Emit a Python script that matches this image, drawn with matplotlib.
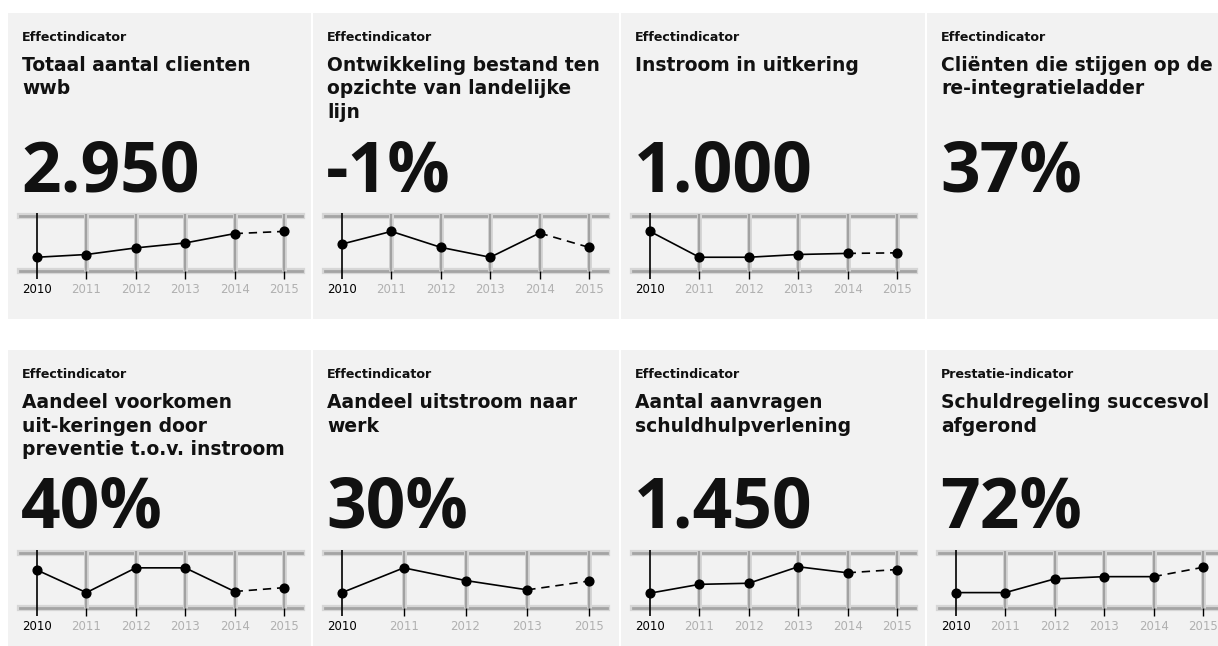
import matplotlib
matplotlib.use("Agg")
import matplotlib.pyplot as plt
from matplotlib.patches import Rectangle

W, H = 1218, 646
BG = "#f2f2f2"
NUM_FONT = "Open Sans"
TXT_FONT = "DejaVu Sans"

# data
years_full = ['2010', '2011', '2012', '2013', '2014', '2015']
years_short = ['2010', '2011', '2012', '2013', '2015']

kinds = ['Effectindicator'] * 7 + ['Prestatie-indicator']
titles = [
    'Totaal aantal clienten\nwwb',
    'Ontwikkeling bestand ten\nopzichte van landelijke\nlijn',
    'Instroom in uitkering',
    'Cliënten die stijgen op de\nre-integratieladder',
    'Aandeel voorkomen\nuit-keringen door\npreventie t.o.v. instroom',
    'Aandeel uitstroom naar\nwerk',
    'Aantal aanvragen\nschuldhulpverlening',
    'Schuldregeling succesvol\nafgerond',
]
big_values = ['2.950', '-1%', '1.000', '37%', '40%', '30%', '1.450', '72%']

# relative position in the sparkline (0 = lower gridline, 1 = upper gridline)
s_clienten = [0.25, 0.30, 0.42, 0.51, 0.68, 0.72]
s_ontwikkeling = [0.49, 0.72, 0.43, 0.25, 0.69, 0.43]
s_instroom = [0.72, 0.25, 0.25, 0.30, 0.32, 0.33]
s_preventie = [0.69, 0.28, 0.73, 0.73, 0.30, 0.37]
s_uitstroom = [0.28, 0.73, 0.50, 0.33, 0.49]
s_schuldhulp = [0.27, 0.43, 0.45, 0.75, 0.64, 0.70]
s_schuldregeling = [0.28, 0.28, 0.53, 0.57, 0.57, 0.74]

series = [
    (years_full, s_clienten),
    (years_full, s_ontwikkeling),
    (years_full, s_instroom),
    None,
    (years_full, s_preventie),
    (years_short, s_uitstroom),
    (years_full, s_schuldhulp),
    (years_full, s_schuldregeling),
]

col_x = [8, 313, 621, 927]
col_w = [303, 306, 304, 304]
row_y = [13, 350]
row_h = [306, 300]


def fx(x):
    return x / W


def fy(y):
    return 1 - y / H


def add_px_axes(fig, x, y, w, h):
    return fig.add_axes([x / W, 1 - (y + h) / H, w / W, h / H])


def draw_sparkline(fig, x0, y0, labels, vals):
    ax = add_px_axes(fig, x0 + 12, y0 + 203, 282, 55)
    ax.set_axis_off()
    ax.set_zorder(2)
    n = len(vals)
    scale = 247 / (n - 1)
    ax.set_xlim(-17 / scale, (n - 1) + 18 / scale)
    ax.set_ylim(0, 1)
    xs = list(range(n))

    # horizontal grid (soft, a little blurry)
    for yy in (0, 1):
        ax.axhline(yy, color="#d6d6d6", lw=4.5, clip_on=False, zorder=1)
        ax.axhline(yy, color="#a4a4a4", lw=2.0, clip_on=False, zorder=1)
    # vertical grid
    for i in xs[1:]:
        ax.plot([i, i], [0, 1.04], color="#d6d6d6", lw=3.6, clip_on=False, zorder=1,
                solid_capstyle="butt")
        ax.plot([i, i], [0, 1.04], color="#a2a2a2", lw=1.6, clip_on=False, zorder=1,
                solid_capstyle="butt")
        ax.plot([i, i], [-0.15, 0], color="black", lw=1.0, clip_on=False, zorder=2,
                solid_capstyle="butt")
    ax.plot([0, 0], [-0.15, 1.05], color="black", lw=1.2, clip_on=False, zorder=2,
            solid_capstyle="butt")

    # line: solid part + dashed last segment
    ax.plot(xs[:-1], vals[:-1], color="black", lw=1.2, zorder=3, clip_on=False)
    ax.plot(xs[-2:], vals[-2:], color="black", lw=1.2, ls=(0, (5, 3.5)), zorder=3,
            clip_on=False)
    ax.plot(xs, vals, "o", color="black", ms=6.3, zorder=4, clip_on=False)

    for i, lab in enumerate(labels):
        ax.text(i, -0.345, lab, ha="center", va="center", fontsize=8.5,
                family=TXT_FONT, color="black" if i == 0 else "#b0b0b0", clip_on=False)


fig = plt.figure(figsize=(W / 100, H / 100), dpi=100)
fig.patch.set_facecolor("white")

for k in range(8):
    r, c = divmod(k, 4)
    x0, y0 = col_x[c], row_y[r]
    fig.patches.append(Rectangle((fx(x0), fy(y0 + row_h[r])), col_w[c] / W, row_h[r] / H,
                                 transform=fig.transFigure, facecolor=BG, edgecolor="none",
                                 zorder=-5))
    fig.text(fx(x0 + 14), fy(y0 + 28), kinds[k], fontsize=9.1, fontweight="bold",
             family=TXT_FONT, color="#111111", va="baseline", ha="left")
    for j, line in enumerate(titles[k].split("\n")):
        fig.text(fx(x0 + 14), fy(y0 + 58 + j * 23.5), line, fontsize=13.5,
                 fontweight="bold", family=TXT_FONT, color="#111111", va="baseline",
                 ha="left")
    fig.text(fx(x0 + 13), fy(y0 + 178), big_values[k], fontsize=50, fontweight="bold",
             fontstretch="normal", family=NUM_FONT, color="#111111", va="baseline",
             ha="left")
    if series[k] is not None:
        labels, vals = series[k]
        draw_sparkline(fig, x0, y0, labels, vals)

fig.savefig("out.png", dpi=100, facecolor="white")
